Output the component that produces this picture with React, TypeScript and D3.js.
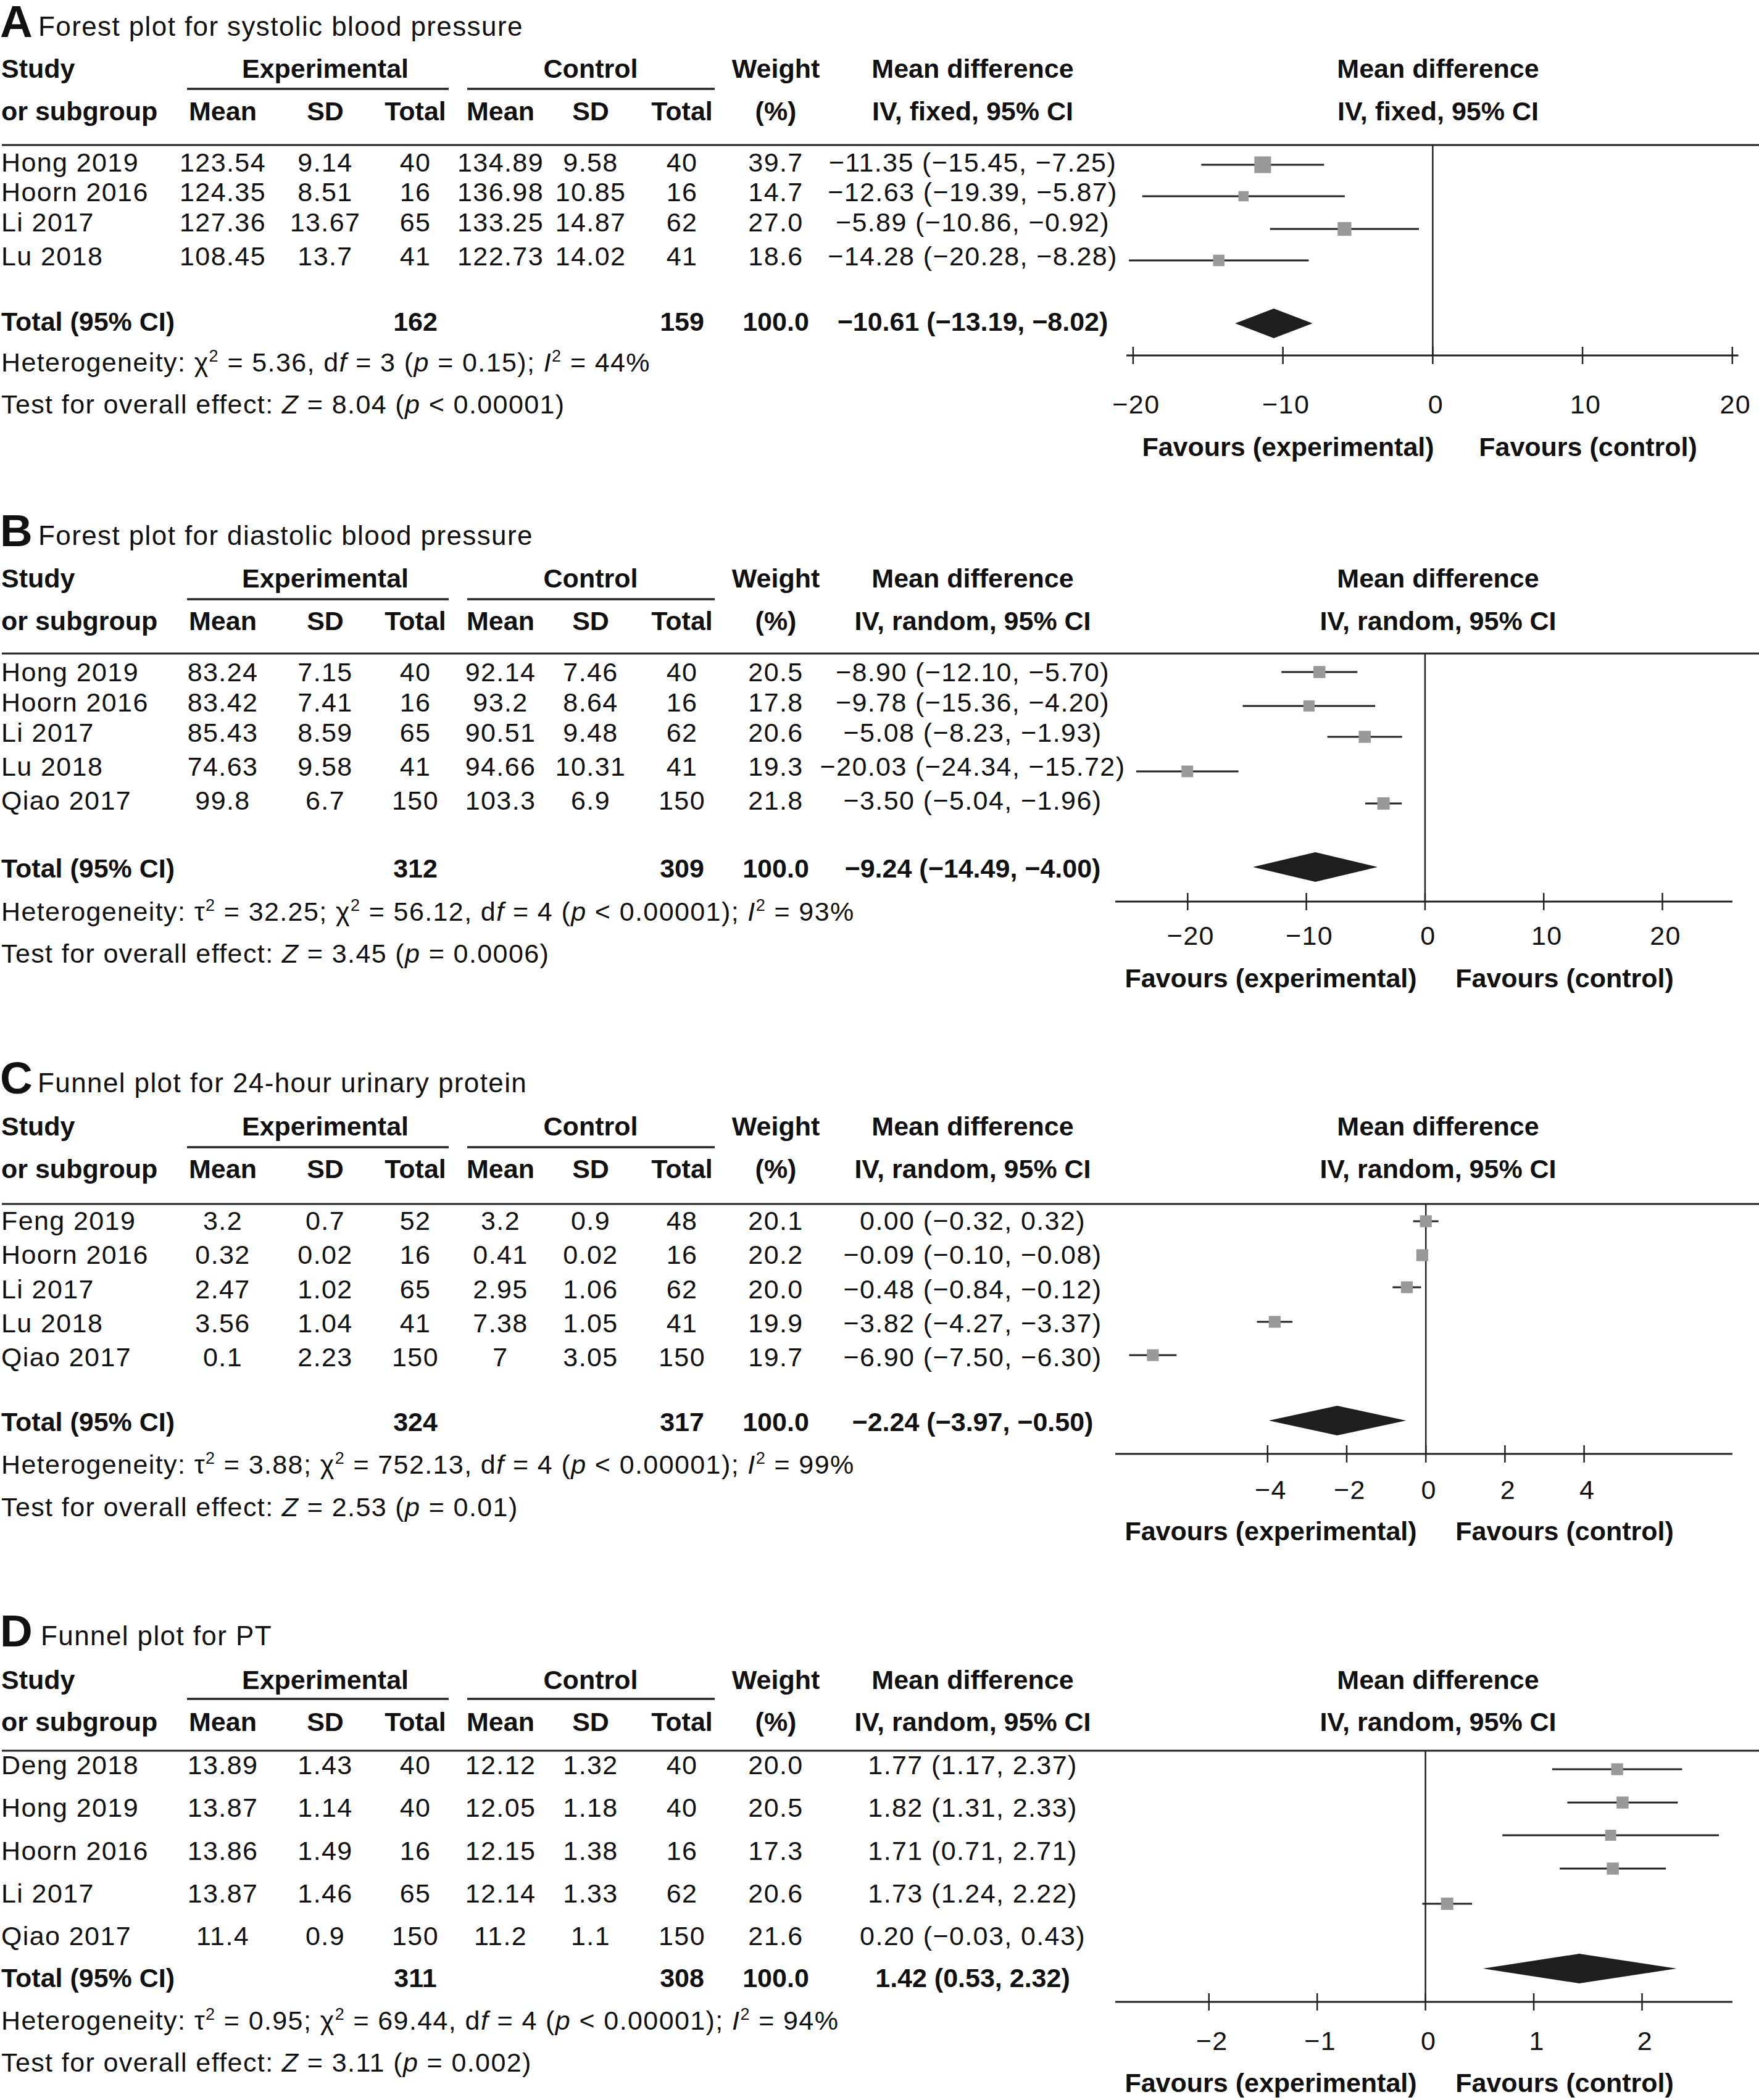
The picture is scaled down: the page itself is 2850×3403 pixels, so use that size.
import React from "react";
import * as d3 from "d3";

// ---------------- DATA ----------------
const panelLetters = ["A", "B", "C", "D"];
const panelTitles = [
  "Forest plot for systolic blood pressure",
  "Forest plot for diastolic blood pressure",
  "Funnel plot for 24-hour urinary protein",
  "Funnel plot for PT",
];
const methodLabels = ["fixed", "random", "random", "random"];

// Panel A – systolic BP
const studyA = ["Hong 2019", "Hoorn 2016", "Li 2017", "Lu 2018"];
const expMeanA = [123.54, 124.35, 127.36, 108.45];
const expSdA = [9.14, 8.51, 13.67, 13.7];
const expNA = [40, 16, 65, 41];
const ctlMeanA = [134.89, 136.98, 133.25, 122.73];
const ctlSdA = [9.58, 10.85, 14.87, 14.02];
const ctlNA = [40, 16, 62, 41];
const weightA = [39.7, 14.7, 27.0, 18.6];
const mdA = [-11.35, -12.63, -5.89, -14.28];
const loA = [-15.45, -19.39, -10.86, -20.28];
const hiA = [-7.25, -5.87, -0.92, -8.28];

// Panel B – diastolic BP
const studyB = ["Hong 2019", "Hoorn 2016", "Li 2017", "Lu 2018", "Qiao 2017"];
const expMeanB = [83.24, 83.42, 85.43, 74.63, 99.8];
const expSdB = [7.15, 7.41, 8.59, 9.58, 6.7];
const expNB = [40, 16, 65, 41, 150];
const ctlMeanB = [92.14, 93.2, 90.51, 94.66, 103.3];
const ctlSdB = [7.46, 8.64, 9.48, 10.31, 6.9];
const ctlNB = [40, 16, 62, 41, 150];
const weightB = [20.5, 17.8, 20.6, 19.3, 21.8];
const mdB = [-8.9, -9.78, -5.08, -20.03, -3.5];
const loB = [-12.1, -15.36, -8.23, -24.34, -5.04];
const hiB = [-5.7, -4.2, -1.93, -15.72, -1.96];

// Panel C – 24-hour urinary protein
const studyC = ["Feng 2019", "Hoorn 2016", "Li 2017", "Lu 2018", "Qiao 2017"];
const expMeanC = [3.2, 0.32, 2.47, 3.56, 0.1];
const expSdC = [0.7, 0.02, 1.02, 1.04, 2.23];
const expNC = [52, 16, 65, 41, 150];
const ctlMeanC = [3.2, 0.41, 2.95, 7.38, 7];
const ctlSdC = [0.9, 0.02, 1.06, 1.05, 3.05];
const ctlNC = [48, 16, 62, 41, 150];
const weightC = [20.1, 20.2, 20.0, 19.9, 19.7];
const mdC = [0.0, -0.09, -0.48, -3.82, -6.9];
const loC = [-0.32, -0.1, -0.84, -4.27, -7.5];
const hiC = [0.32, -0.08, -0.12, -3.37, -6.3];

// Panel D – PT
const studyD = ["Deng 2018", "Hong 2019", "Hoorn 2016", "Li 2017", "Qiao 2017"];
const expMeanD = [13.89, 13.87, 13.86, 13.87, 11.4];
const expSdD = [1.43, 1.14, 1.49, 1.46, 0.9];
const expND = [40, 40, 16, 65, 150];
const ctlMeanD = [12.12, 12.05, 12.15, 12.14, 11.2];
const ctlSdD = [1.32, 1.18, 1.38, 1.33, 1.1];
const ctlND = [40, 40, 16, 62, 150];
const weightD = [20.0, 20.5, 17.3, 20.6, 21.6];
const mdD = [1.77, 1.82, 1.71, 1.73, 0.2];
const loD = [1.17, 1.31, 0.71, 1.24, -0.03];
const hiD = [2.37, 2.33, 2.71, 2.22, 0.43];

// Totals per panel
const totalExpN = [162, 312, 324, 311];
const totalCtlN = [159, 309, 317, 308];
const totalWeight = [100.0, 100.0, 100.0, 100.0];
const totalMd = [-10.61, -9.24, -2.24, 1.42];
const totalLo = [-13.19, -14.49, -3.97, 0.53];
const totalHi = [-8.02, -4.0, -0.5, 2.32];

// Heterogeneity / overall effect
const hetTau2 = [null, "32.25", "3.88", "0.95"];
const hetChi2 = ["5.36", "56.12", "752.13", "69.44"];
const hetDf = [3, 4, 4, 4];
const hetP = ["= 0.15", "< 0.00001", "< 0.00001", "< 0.00001"];
const hetI2 = [44, 93, 99, 94];
const zVal = ["8.04", "3.45", "2.53", "3.11"];
const zP = ["< 0.00001", "= 0.0006", "= 0.01", "= 0.002"];

// Axes
const axisExtent = [
  [-20.45, 20.4],
  [-26.1, 25.9],
  [-7.85, 7.75],
  [-2.865, 2.835],
];
const tickVals = [
  [-20, -10, 0, 10, 20],
  [-20, -10, 0, 10, 20],
  [-4, -2, 0, 2, 4],
  [-2, -1, 0, 1, 2],
];

const panelData = [
  { study: studyA, em: expMeanA, es: expSdA, en: expNA, cm: ctlMeanA, cs: ctlSdA, cn: ctlNA, w: weightA, md: mdA, lo: loA, hi: hiA },
  { study: studyB, em: expMeanB, es: expSdB, en: expNB, cm: ctlMeanB, cs: ctlSdB, cn: ctlNB, w: weightB, md: mdB, lo: loB, hi: hiB },
  { study: studyC, em: expMeanC, es: expSdC, en: expNC, cm: ctlMeanC, cs: ctlSdC, cn: ctlNC, w: weightC, md: mdC, lo: loC, hi: hiC },
  { study: studyD, em: expMeanD, es: expSdD, en: expND, cm: ctlMeanD, cs: ctlSdD, cn: ctlND, w: weightD, md: mdD, lo: loD, hi: hiD },
];

// ---------------- LAYOUT ----------------
const layouts = [
  { letterY: 60, titleX: 62, h1: 126, ul: 144, h2: 195, top: 235, rows: [278, 326, 375, 430], marks: [267, 318, 371, 422], total: 536, diamond: 524, het: 602, test: 670, axisY: 576, tickY: 670, favY: 739, favX: [2087, 2573], xRange: [1825, 2816.5] },
  { letterY: 885, titleX: 62, h1: 952, ul: 971, h2: 1021, top: 1059, rows: [1104, 1153, 1202, 1257, 1312], marks: [1089, 1144, 1194, 1250, 1302], total: 1422, diamond: 1405, het: 1492, test: 1560, axisY: 1461, tickY: 1531, favY: 1600, favX: [2059, 2535], xRange: [1807, 2807] },
  { letterY: 1772, titleX: 61, h1: 1840, ul: 1859, h2: 1909, top: 1951, rows: [1993, 2048, 2104, 2159, 2214], marks: [1979, 2034, 2086, 2142, 2196], total: 2319, diamond: 2302, het: 2388, test: 2457, axisY: 2356, tickY: 2429, favY: 2496, favX: [2059, 2535], xRange: [1807, 2807] },
  { letterY: 2668, titleX: 66, h1: 2737, ul: 2753, h2: 2805, top: 2837, rows: [2875, 2944, 3014, 3083, 3152], marks: [2867, 2921, 2974, 3028, 3085], total: 3220, diamond: 3190, het: 3289, test: 3357, axisY: 3244, tickY: 3322, favY: 3390, favX: [2059, 2535], xRange: [1807, 2807] },
];

const COL = { expMean: 361, expSd: 527, expN: 673, ctlMean: 811, ctlSd: 957, ctlN: 1105, weight: 1257, md: 1576, plotHead: 2330 };
const FONT = "'Liberation Sans', Arial, Helvetica, sans-serif";
const FS = 43;
const LS = 1.4; // letter spacing for regular text
const INK = "#111";
const LINE = "#222";

const minus = (s: string) => s.replace(/-/g, "\u2212");
const num = (v: number) => minus(String(v));
const ci = (m: number, l: number, h: number) =>
  minus(`${m.toFixed(2)} (${l.toFixed(2)}, ${h.toFixed(2)})`);

const sizeScale = d3.scaleSqrt().domain([0, 100]).range([0, 43]);

type Seg = { t: string; i?: boolean; sup?: boolean };

function Rich({ x, y, segs }: { x: number; y: number; segs: Seg[] }) {
  let up = false;
  return (
    <text x={x} y={y} style={{ whiteSpace: "pre" }}>
      {segs.map((s, k) => {
        let dy: number | undefined;
        if (s.sup && !up) { dy = -16; up = true; }
        else if (!s.sup && up) { dy = 16; up = false; }
        return (
          <tspan key={k} dy={dy} fontStyle={s.i ? "italic" : undefined} fontSize={s.sup ? 27 : undefined}>
            {s.t}
          </tspan>
        );
      })}
    </text>
  );
}

function Panel({ p }: { p: number }) {
  const L = layouts[p];
  const D = panelData[p];
  const x = d3.scaleLinear().domain(axisExtent[p]).range(L.xRange);
  const x0 = x(0);

  const hetSegs: Seg[] = [{ t: "Heterogeneity: " }];
  if (hetTau2[p] !== null) {
    hetSegs.push({ t: "\u03C4" }, { t: "2", sup: true }, { t: ` = ${hetTau2[p]}; ` });
  }
  hetSegs.push(
    { t: "\u03C7" }, { t: "2", sup: true },
    { t: ` = ${hetChi2[p]}, d` }, { t: "f", i: true },
    { t: ` = ${hetDf[p]} (` }, { t: "p", i: true },
    { t: ` ${hetP[p]}); ` }, { t: "I", i: true }, { t: "2", sup: true },
    { t: ` = ${hetI2[p]}%` }
  );
  const testSegs: Seg[] = [
    { t: "Test for overall effect: " }, { t: "Z", i: true },
    { t: ` = ${zVal[p]} (` }, { t: "p", i: true }, { t: ` ${zP[p]})` },
  ];

  const method = `IV, ${methodLabels[p]}, 95% CI`;
  const dH = 24;
  const tx = x(totalMd[p]);

  return (
    <g>
      {/* title */}
      <text x={0} y={L.letterY} fontSize={73} fontWeight={700} letterSpacing={0}>{panelLetters[p]}</text>
      <text x={L.titleX} y={L.letterY - 2} fontSize={44}>{panelTitles[p]}</text>

      {/* header */}
      <g fontWeight={700} letterSpacing={0}>
        <text x={2} y={L.h1}>Study</text>
        <text x={COL.expSd} y={L.h1} textAnchor="middle">Experimental</text>
        <text x={COL.ctlSd} y={L.h1} textAnchor="middle">Control</text>
        <text x={COL.weight} y={L.h1} textAnchor="middle">Weight</text>
        <text x={COL.md} y={L.h1} textAnchor="middle">Mean difference</text>
        <text x={COL.plotHead} y={L.h1} textAnchor="middle">Mean difference</text>
        <text x={2} y={L.h2}>or subgroup</text>
        <text x={COL.expMean} y={L.h2} textAnchor="middle">Mean</text>
        <text x={COL.expSd} y={L.h2} textAnchor="middle">SD</text>
        <text x={COL.expN} y={L.h2} textAnchor="middle">Total</text>
        <text x={COL.ctlMean} y={L.h2} textAnchor="middle">Mean</text>
        <text x={COL.ctlSd} y={L.h2} textAnchor="middle">SD</text>
        <text x={COL.ctlN} y={L.h2} textAnchor="middle">Total</text>
        <text x={COL.weight} y={L.h2} textAnchor="middle">(%)</text>
        <text x={COL.md} y={L.h2} textAnchor="middle">{method}</text>
        <text x={COL.plotHead} y={L.h2} textAnchor="middle">{method}</text>
      </g>
      <line x1={303} x2={727} y1={L.ul} y2={L.ul} stroke={LINE} strokeWidth={3.5} />
      <line x1={757} x2={1158} y1={L.ul} y2={L.ul} stroke={LINE} strokeWidth={3.5} />
      <line x1={3} x2={2850} y1={L.top} y2={L.top} stroke={LINE} strokeWidth={3} />

      {/* study rows */}
      {D.study.map((s, i) => {
        const y = L.rows[i];
        return (
          <g key={s}>
            <text x={2} y={y}>{s}</text>
            <text x={COL.expMean} y={y} textAnchor="middle">{num(D.em[i])}</text>
            <text x={COL.expSd} y={y} textAnchor="middle">{num(D.es[i])}</text>
            <text x={COL.expN} y={y} textAnchor="middle">{num(D.en[i])}</text>
            <text x={COL.ctlMean} y={y} textAnchor="middle">{num(D.cm[i])}</text>
            <text x={COL.ctlSd} y={y} textAnchor="middle">{num(D.cs[i])}</text>
            <text x={COL.ctlN} y={y} textAnchor="middle">{num(D.cn[i])}</text>
            <text x={COL.weight} y={y} textAnchor="middle">{D.w[i].toFixed(1)}</text>
            <text x={COL.md} y={y} textAnchor="middle">{ci(D.md[i], D.lo[i], D.hi[i])}</text>
          </g>
        );
      })}

      {/* total row */}
      <g fontWeight={700} letterSpacing={0}>
        <text x={2} y={L.total}>Total (95% CI)</text>
        <text x={COL.expN} y={L.total} textAnchor="middle">{totalExpN[p]}</text>
        <text x={COL.ctlN} y={L.total} textAnchor="middle">{totalCtlN[p]}</text>
        <text x={COL.weight} y={L.total} textAnchor="middle">{totalWeight[p].toFixed(1)}</text>
        <text x={COL.md} y={L.total} textAnchor="middle">{ci(totalMd[p], totalLo[p], totalHi[p])}</text>
      </g>
      <Rich x={2} y={L.het} segs={hetSegs} />
      <Rich x={2} y={L.test} segs={testSegs} />

      {/* plot */}
      <line x1={x0} x2={x0} y1={L.top} y2={L.axisY} stroke={LINE} strokeWidth={2.5} />
      {D.study.map((s, i) => {
        const y = L.marks[i];
        const sz = sizeScale(D.w[i]);
        return (
          <g key={"m" + s}>
            <line x1={x(D.lo[i])} x2={x(D.hi[i])} y1={y} y2={y} stroke={LINE} strokeWidth={3} />
            <rect x={x(D.md[i]) - sz / 2} y={y - sz / 2} width={sz} height={sz} fill="#999" />
          </g>
        );
      })}
      <polygon
        points={`${x(totalLo[p])},${L.diamond} ${tx},${L.diamond - dH} ${x(totalHi[p])},${L.diamond} ${tx},${L.diamond + dH}`}
        fill="#1e1e1e"
      />

      {/* axis */}
      <line x1={L.xRange[0]} x2={L.xRange[1]} y1={L.axisY} y2={L.axisY} stroke={LINE} strokeWidth={3.2} />
      {tickVals[p].map((t) => (
        <g key={"t" + t}>
          <line x1={x(t)} x2={x(t)} y1={L.axisY - 14} y2={L.axisY + 14} stroke={LINE} strokeWidth={2.5} />
          <text x={x(t) + 5} y={L.tickY} textAnchor="middle">{num(t)}</text>
        </g>
      ))}
      <g fontWeight={700} letterSpacing={0}>
        <text x={L.favX[0]} y={L.favY} textAnchor="middle">Favours (experimental)</text>
        <text x={L.favX[1]} y={L.favY} textAnchor="middle">Favours (control)</text>
      </g>
    </g>
  );
}

export default function App() {
  return (
    <svg
      width={2850}
      height={3403}
      viewBox="0 0 2850 3403"
      style={{ position: "absolute", left: 0, top: 0, background: "#fff" }}
      fontFamily={FONT}
      fontSize={FS}
      fill={INK}
      letterSpacing={LS}
    >
      <rect x={0} y={0} width={2850} height={3403} fill="#fff" />
      {[0, 1, 2, 3].map((p) => (
        <Panel key={p} p={p} />
      ))}
    </svg>
  );
}
